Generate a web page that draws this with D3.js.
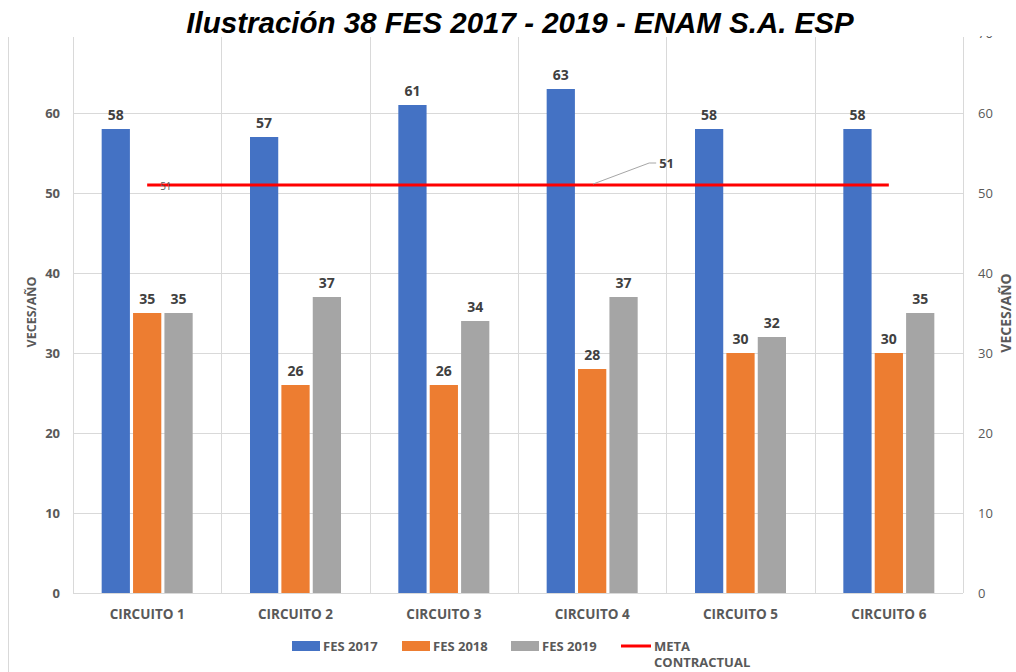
<!DOCTYPE html>
<html>
<head>
<meta charset="utf-8">
<script src="https://cdn.jsdelivr.net/npm/d3@7/dist/d3.min.js"></script>
<style>
  html, body { margin: 0; padding: 0; background: #fff; }
  svg { display: block; }
</style>
</head>
<body>
<svg id="chart" width="1016" height="672"></svg>
<script>
// Chart data
const categories = ["CIRCUITO 1", "CIRCUITO 2", "CIRCUITO 3", "CIRCUITO 4", "CIRCUITO 5", "CIRCUITO 6"];
const fes2017 = [58, 57, 61, 63, 58, 58];
const fes2018 = [35, 26, 26, 28, 30, 30];
const fes2019 = [35, 37, 34, 37, 32, 35];
const metaContractual = [51, 51, 51, 51, 51, 51];
const seriesNames = ["FES 2017", "FES 2018", "FES 2019"];
const yTicksLeft = [0, 10, 20, 30, 40, 50, 60];
const yTicksRight = [0, 10, 20, 30, 40, 50, 60, 70];
const titleText = "Ilustración 38 FES 2017 - 2019 - ENAM S.A. ESP";

const colors = ["#4472C4", "#ED7D31", "#A5A5A5"];
const lineColor = "#FF0000";
const labelFont = "'Open Sans', 'Noto Sans', sans-serif";

const svg = d3.select("#chart");
const W = 1016, H = 672;
const plot = { left: 73, right: 963, top: 37, bottom: 593 };

const x = d3.scaleBand().domain(categories).range([plot.left, plot.right]).padding(0);
const inner = d3.scaleBand().domain(seriesNames).range([0, 91]).paddingInner(0.1);
const y = d3.scaleLinear().domain([0, 70]).range([plot.bottom, plot.bottom - 70 * 8]);

// Clip everything in the chart body below the title band
svg.append("defs").append("clipPath").attr("id", "body")
  .append("rect").attr("x", 0).attr("y", plot.top - 1).attr("width", W).attr("height", H);

const body = svg.append("g").attr("clip-path", "url(#body)");

// Outer chart border on the left
body.append("line").attr("x1", 8.5).attr("x2", 8.5).attr("y1", plot.top).attr("y2", H)
  .attr("stroke", "#d9d9d9");

// Horizontal gridlines
body.append("g").selectAll("line").data(yTicksRight.filter(d => d > 0)).join("line")
  .attr("x1", plot.left).attr("x2", plot.right)
  .attr("y1", d => Math.round(y(d)) + 0.5).attr("y2", d => Math.round(y(d)) + 0.5)
  .attr("stroke", "#d9d9d9");

// Vertical gridlines at category boundaries
const bounds = categories.map(c => x(c)).concat([plot.right]);
body.append("g").selectAll("line").data(bounds).join("line")
  .attr("x1", d => Math.round(d) + 0.5).attr("x2", d => Math.round(d) + 0.5)
  .attr("y1", plot.top).attr("y2", plot.bottom)
  .attr("stroke", "#d9d9d9");

// Baseline
body.append("line").attr("x1", plot.left).attr("x2", plot.right)
  .attr("y1", plot.bottom + 0.5).attr("y2", plot.bottom + 0.5).attr("stroke", "#d9d9d9");

// Bars
const allSeries = [fes2017, fes2018, fes2019];
const groupOffset = (x.bandwidth() - 91) / 2;
allSeries.forEach((vals, si) => {
  const g = body.append("g");
  g.selectAll("rect").data(vals).join("rect")
    .attr("x", (d, i) => x(categories[i]) + groupOffset + inner(seriesNames[si]))
    .attr("y", d => y(d))
    .attr("width", inner.bandwidth())
    .attr("height", d => y(0) - y(d))
    .attr("fill", colors[si]);
  g.selectAll("text").data(vals).join("text")
    .attr("x", (d, i) => x(categories[i]) + groupOffset + inner(seriesNames[si]) + inner.bandwidth() / 2)
    .attr("y", d => y(d) - 9)
    .attr("text-anchor", "middle")
    .attr("font-family", labelFont)
    .attr("font-weight", "bold")
    .attr("font-size", 14)
    .attr("fill", "#404040")
    .text(d => d);
});

// Contract target line through category centres
const line = d3.line()
  .x((d, i) => x(categories[i]) + x.bandwidth() / 2)
  .y(d => y(d));
body.append("path").datum(metaContractual)
  .attr("d", line)
  .attr("fill", "none")
  .attr("stroke", lineColor)
  .attr("stroke-width", 3);

// Small value label at the start of the target line
body.append("text")
  .attr("x", x(categories[0]) + x.bandwidth() / 2 + 13)
  .attr("y", y(metaContractual[0]) + 5)
  .attr("font-family", labelFont)
  .attr("font-size", 10)
  .attr("fill", "#595959")
  .text(metaContractual[0]);

// Callout label with leader line from the target line's point
const calloutIdx = 3;
const cx0 = x(categories[calloutIdx]) + x.bandwidth() / 2 + 1;
const cy0 = y(metaContractual[calloutIdx]) - 1;
body.append("polyline")
  .attr("points", `${cx0},${cy0} ${cx0 + 56},${cy0 - 21} ${cx0 + 63},${cy0 - 21}`)
  .attr("fill", "none").attr("stroke", "#a6a6a6").attr("stroke-width", 1);
body.append("text")
  .attr("x", cx0 + 66).attr("y", cy0 - 16)
  .attr("font-family", labelFont).attr("font-weight", "bold").attr("font-size", 13)
  .attr("fill", "#404040")
  .text(metaContractual[calloutIdx]);

// Left axis ticks (bold)
body.append("g").selectAll("text").data(yTicksLeft).join("text")
  .attr("x", 60).attr("y", d => y(d) + 5)
  .attr("text-anchor", "end")
  .attr("font-family", labelFont).attr("font-weight", "bold").attr("font-size", 13)
  .attr("fill", "#595959")
  .text(d => d);

// Right axis ticks (regular)
body.append("g").selectAll("text").data(yTicksRight).join("text")
  .attr("x", 978).attr("y", d => y(d) + 5)
  .attr("text-anchor", "start")
  .attr("font-family", labelFont).attr("font-size", 13)
  .attr("fill", "#595959")
  .text(d => d);

// Category labels
body.append("g").selectAll("text").data(categories).join("text")
  .attr("x", d => x(d) + x.bandwidth() / 2)
  .attr("y", 619)
  .attr("text-anchor", "middle")
  .attr("font-family", labelFont).attr("font-weight", "bold").attr("font-size", 13.5)
  .attr("fill", "#595959")
  .text(d => d);

// Axis titles
body.append("text")
  .attr("transform", "translate(36,312) rotate(-90)")
  .attr("text-anchor", "middle")
  .attr("font-family", labelFont).attr("font-weight", "bold").attr("font-size", 12.5)
  .attr("fill", "#595959")
  .text("VECES/AÑO");
body.append("text")
  .attr("transform", "translate(1011,313) rotate(-90)")
  .attr("text-anchor", "middle")
  .attr("font-family", labelFont).attr("font-weight", "bold").attr("font-size", 14)
  .attr("fill", "#595959")
  .text("VECES/AÑO");

// Legend
const legend = body.append("g");
const legendX = [292, 402, 511];
seriesNames.forEach((name, i) => {
  legend.append("rect").attr("x", legendX[i]).attr("y", 641).attr("width", 28).attr("height", 10)
    .attr("fill", colors[i]);
  legend.append("text").attr("x", legendX[i] + 31).attr("y", 651)
    .attr("font-family", labelFont).attr("font-weight", "bold").attr("font-size", 13)
    .attr("fill", "#595959").text(name);
});
legend.append("line").attr("x1", 621).attr("x2", 651).attr("y1", 646).attr("y2", 646)
  .attr("stroke", lineColor).attr("stroke-width", 3);
legend.append("text").attr("x", 654).attr("y", 651)
  .attr("font-family", labelFont).attr("font-weight", "bold").attr("font-size", 13)
  .attr("fill", "#595959").text("META");
legend.append("text").attr("x", 654).attr("y", 667)
  .attr("font-family", labelFont).attr("font-weight", "bold").attr("font-size", 13)
  .attr("fill", "#595959").text("CONTRACTUAL");

// Title
svg.append("text")
  .attr("x", 520).attr("y", 33)
  .attr("text-anchor", "middle")
  .attr("font-family", "'Liberation Sans', Arial, sans-serif")
  .attr("font-weight", "bold").attr("font-style", "italic")
  .attr("font-size", 29.5)
  .attr("fill", "#000")
  .text(titleText);
</script>
</body>
</html>
